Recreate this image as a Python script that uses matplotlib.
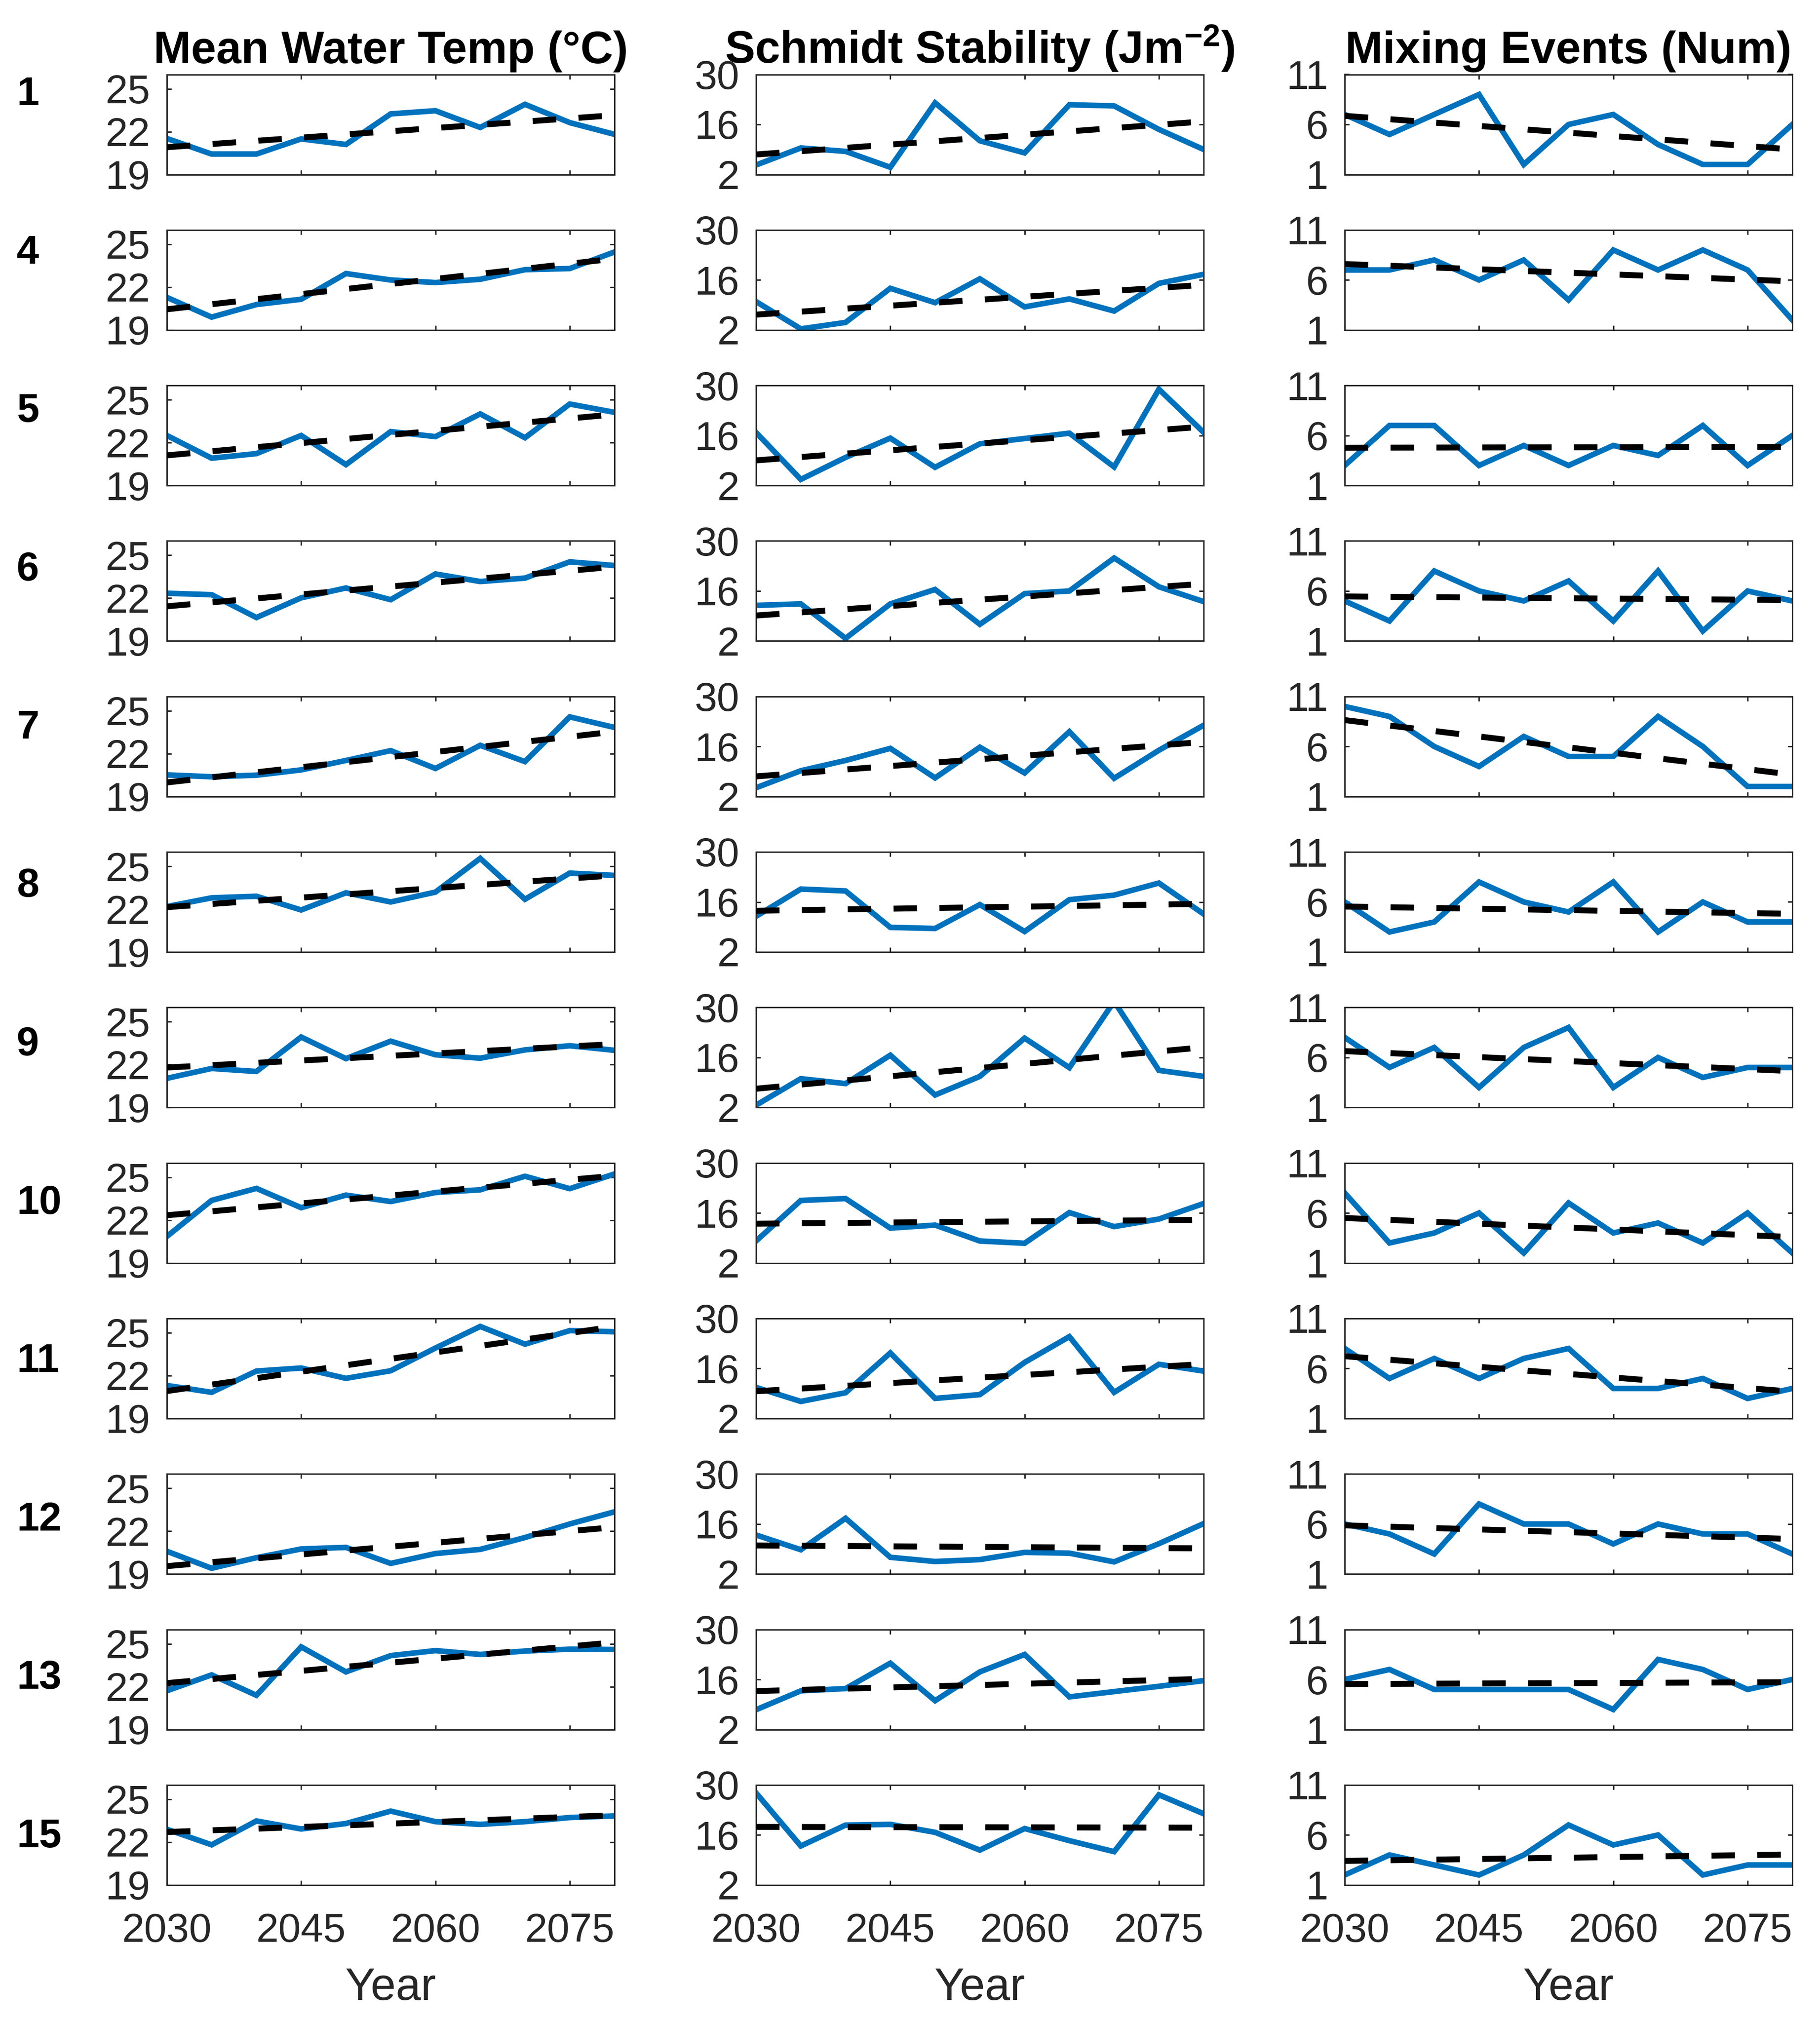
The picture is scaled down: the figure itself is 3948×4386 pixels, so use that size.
import numpy as np
import matplotlib
matplotlib.use("Agg")
import matplotlib.pyplot as plt

plt.rcParams['font.family'] = ['Liberation Sans', 'DejaVu Sans']
plt.rcParams['mathtext.fontset'] = 'custom'
plt.rcParams['mathtext.rm'] = 'Liberation Sans'
plt.rcParams['mathtext.bf'] = 'Liberation Sans:bold'
plt.rcParams['mathtext.it'] = 'Liberation Sans:italic'

# ---------------- data ----------------
years = [2030, 2035, 2040, 2045, 2050, 2055, 2060, 2065, 2070, 2075, 2080]
lake_ids = ['1', '4', '5', '6', '7', '8', '9', '10', '11', '12', '13', '15']
col_titles = ['Mean Water Temp (°C)', r'Schmidt Stability (Jm$^{\mathbf{-2}}$)', 'Mixing Events (Num)']
x_ticks = [2030, 2045, 2060, 2075]
temp_ticks = [19, 22, 25]
schmidt_ticks = [2, 16, 30]
mixing_ticks = [1, 6, 11]

mean_water_temp = [
    [21.52, 20.43, 20.43, 21.49, 21.10, 23.24, 23.46, 22.29, 23.91, 22.63, 21.81],
    [21.28, 19.90, 20.78, 21.15, 22.95, 22.50, 22.32, 22.55, 23.22, 23.30, 24.46],
    [22.50, 20.91, 21.23, 22.50, 20.46, 22.77, 22.42, 24.01, 22.34, 24.70, 24.12],
    [22.34, 22.24, 20.64, 22.02, 22.71, 21.89, 23.69, 23.16, 23.40, 24.54, 24.28],
    [20.51, 20.38, 20.49, 20.86, 21.52, 22.21, 20.96, 22.58, 21.44, 24.57, 23.83],
    [22.18, 22.79, 22.90, 21.94, 23.14, 22.50, 23.19, 25.55, 22.69, 24.52, 24.36],
    [21.04, 21.73, 21.52, 23.93, 22.42, 23.64, 22.69, 22.45, 23.03, 23.32, 23.00],
    [20.86, 23.38, 24.22, 22.87, 23.75, 23.30, 23.93, 24.12, 25.07, 24.20, 25.23],
    [21.31, 20.83, 22.32, 22.53, 21.81, 22.34, 23.93, 25.44, 24.20, 25.15, 25.07],
    [20.59, 19.40, 20.14, 20.75, 20.86, 19.74, 20.43, 20.72, 21.55, 22.50, 23.35],
    [21.71, 22.82, 21.39, 24.78, 23.03, 24.17, 24.52, 24.25, 24.49, 24.62, 24.60],
    [22.90, 21.81, 23.48, 22.92, 23.30, 24.17, 23.43, 23.24, 23.43, 23.72, 23.83],
]

schmidt_stability = [
    [4.65, 9.42, 8.47, 4.02, 22.05, 11.44, 8.05, 21.52, 21.20, 14.62, 9.00],
    [9.95, 2.32, 4.12, 13.67, 9.64, 16.32, 8.47, 10.70, 7.30, 15.05, 17.59],
    [16.85, 3.70, 9.85, 15.26, 7.09, 13.67, 15.15, 16.64, 7.20, 28.94, 16.85],
    [11.97, 12.39, 2.74, 12.39, 16.42, 6.67, 15.26, 16.00, 25.23, 17.17, 13.03],
    [4.44, 9.21, 12.08, 15.47, 7.20, 15.79, 8.58, 20.14, 7.09, 14.94, 21.94],
    [11.97, 19.61, 19.08, 8.89, 8.58, 15.26, 7.73, 16.64, 17.91, 21.30, 12.61],
    [2.64, 10.06, 8.68, 16.64, 5.50, 10.70, 21.41, 13.14, 31.70, 12.39, 10.70],
    [8.15, 19.50, 20.03, 11.76, 12.61, 8.15, 7.52, 16.11, 12.18, 14.30, 18.65],
    [10.70, 6.77, 9.21, 20.35, 7.62, 8.68, 17.70, 24.91, 9.32, 17.17, 15.26],
    [12.92, 8.79, 17.59, 6.67, 5.50, 6.03, 8.05, 7.83, 5.39, 10.48, 16.11],
    [7.52, 12.82, 13.45, 20.56, 10.06, 18.12, 23.00, 11.12, 12.61, 14.09, 15.68],
    [27.77, 12.92, 18.76, 18.97, 16.74, 11.76, 17.80, 14.41, 11.33, 27.24, 21.94],
]

mixing_events = [
    [7, 5, 7, 9, 2, 6, 7, 4, 2, 2, 6],
    [7, 7, 8, 6, 8, 4, 9, 7, 9, 7, 2],
    [3, 7, 7, 3, 5, 3, 5, 4, 7, 3, 6],
    [5, 3, 8, 6, 5, 7, 3, 8, 2, 6, 5],
    [10, 9, 6, 4, 7, 5, 5, 9, 6, 2, 2],
    [6, 3, 4, 8, 6, 5, 8, 3, 6, 4, 4],
    [8, 5, 7, 3, 7, 9, 3, 6, 4, 5, 5],
    [8, 3, 4, 6, 2, 7, 4, 5, 3, 6, 2],
    [8, 5, 7, 5, 7, 8, 4, 4, 5, 3, 4],
    [6, 5, 3, 8, 6, 6, 4, 6, 5, 5, 3],
    [6, 7, 5, 5, 5, 5, 3, 8, 7, 5, 6],
    [2, 4, 3, 2, 4, 7, 5, 6, 2, 3, 3],
]

# ---------------- layout ----------------
W, H = 3948, 4386
DPI = 300
fig = plt.figure(figsize=(W / DPI, H / DPI), dpi=DPI)

col_left = [362, 1640, 2917]
ax_w = 971
ax_h = 217
row_top0 = 161.5
row_step = 337.3

blue = '#0072BD'
dark = '#262626'

variables = [mean_water_temp, schmidt_stability, mixing_events]
ylims = [(19, 26), (2, 30), (1, 11)]
yticks = [temp_ticks, schmidt_ticks, mixing_ticks]

xs = np.array(years, dtype=float)
nrows = len(lake_ids)

for r in range(nrows):
    top = row_top0 + row_step * r
    for c in range(3):
        ax = fig.add_axes([col_left[c] / W, 1 - (top + ax_h) / H, ax_w / W, ax_h / H])
        ys = np.array(variables[c][r], dtype=float)
        ax.plot(xs, ys, color=blue, lw=2.9, solid_joinstyle='miter', zorder=2)
        p = np.polyfit(xs, ys, 1)
        xt = np.array([years[0], years[-1]], dtype=float)
        ax.plot(xt, np.polyval(p, xt), color='black', lw=3.1,
                linestyle=(0, (3.95, 3.75)), dash_capstyle='butt', zorder=3)
        ax.set_xlim(years[0], years[-1])
        ax.set_ylim(*ylims[c])
        ax.set_xticks(x_ticks)
        ax.set_yticks(yticks[c])
        for s in ax.spines.values():
            s.set_linewidth(0.75)
            s.set_color(dark)
        ax.tick_params(axis='both', which='both', direction='in', length=2.4,
                       width=0.75, color=dark, labelcolor=dark, labelsize=21,
                       top=True, right=True)
        ax.tick_params(axis='x', pad=14.4)
        ax.tick_params(axis='y', pad=8.6)
        if r < nrows - 1:
            ax.set_xticklabels([])
        else:
            ax.set_xlabel('Year', fontsize=23.5, color=dark, labelpad=9)
        if r == 0:
            ax.set_title(col_titles[c], fontsize=23.5, fontweight='bold',
                         color='black', pad=5.8)
    fig.text(36 / W, 1 - (228 + 343.5 * r) / H, lake_ids[r], ha='left',
             va='baseline', fontsize=21, fontweight='bold', color='black')

fig.savefig('out.png', dpi=DPI, facecolor='white')
